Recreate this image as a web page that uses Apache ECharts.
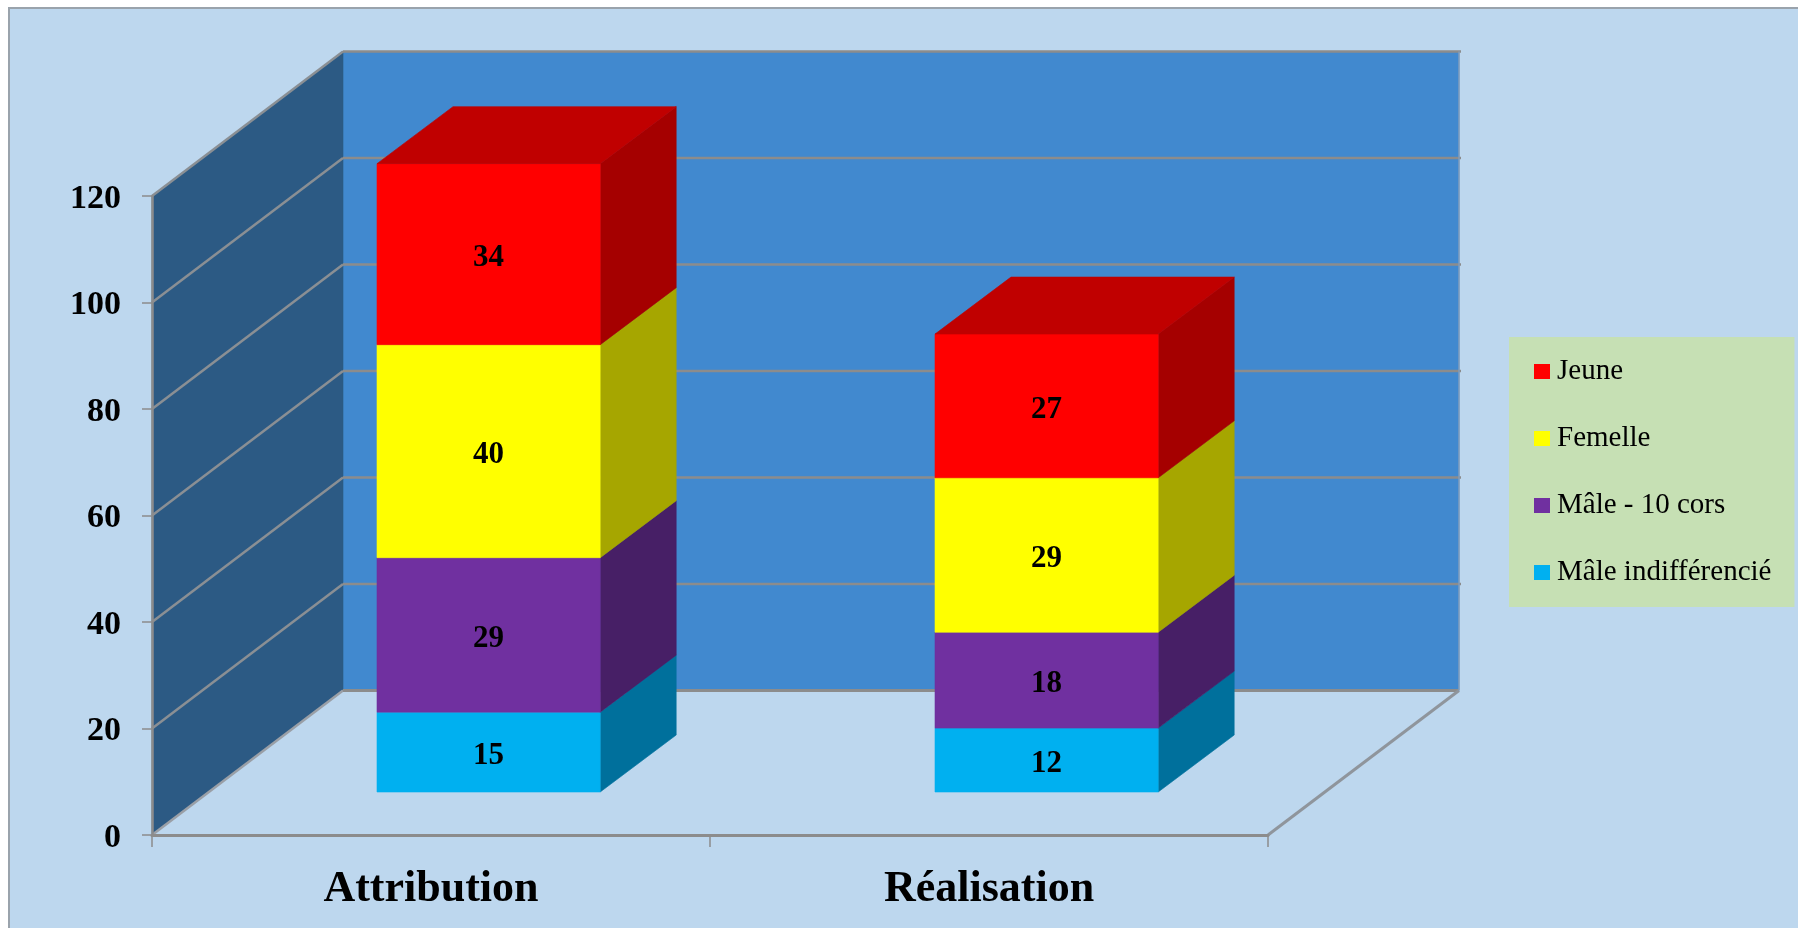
<!DOCTYPE html>
<html><head><meta charset="utf-8">
<style>html,body{margin:0;padding:0;background:#fff}#c{width:1798px;height:928px}</style>
<script src="https://cdn.jsdelivr.net/npm/echarts@6/dist/echarts.min.js"></script>
</head><body><div id="c"></div>
<script>
const categories = ['Attribution', 'Réalisation'];
const yTicks = [0, 20, 40, 60, 80, 100, 120];
const maleIndiff = [15, 12];
const male10 = [29, 18];
const femelle = [40, 29];
const jeune = [34, 27];
const legendOrder = ['Jeune', 'Femelle', 'Mâle - 10 cors', 'Mâle indifférencié'];

const FONT = '"Liberation Serif", serif';
const WALL = {dx: 191, dy: -144.5};
const BAR_OFFSET = {dx: 57.6, dy: -43};
const BAR_DEPTH = {dx: 76, dy: -57};
const BAR_FRACTION = 0.4;
const GRID_COLOR = '#8c8c8c';

const stacks = [
  {name: 'Mâle indifférencié', values: maleIndiff, front: '#00B0F0', side: '#00709C', top: '#0088BA'},
  {name: 'Mâle - 10 cors', values: male10, front: '#7030A0', side: '#471F66', top: '#57257C'},
  {name: 'Femelle', values: femelle, front: '#FFFF00', side: '#A6A600', top: '#C6C600'},
  {name: 'Jeune', values: jeune, front: '#FF0000', side: '#A50000', top: '#C00000'}
];

function poly(points, fill) {
  return {type: 'polygon', shape: {points}, style: {fill, stroke: fill, lineWidth: 0.6}};
}
function gl(x1, y1, x2, y2, w, color) {
  return {type: 'line', shape: {x1, y1, x2, y2}, style: {stroke: color || GRID_COLOR, lineWidth: w || 2}};
}

function renderWalls(params, api) {
  const yMax = yTicks[yTicks.length - 1];
  const o = api.coord([0, 0]);
  const bandW = api.size([1, 0])[0];
  const lx = o[0] - bandW / 2, rx = lx + 2 * bandW;
  const y0 = o[1], yT = api.coord([0, yMax])[1];
  const d = WALL;
  const children = [
    poly([[lx + d.dx, y0 + d.dy], [rx + d.dx, y0 + d.dy], [rx + d.dx, yT + d.dy], [lx + d.dx, yT + d.dy]], '#4189CF'),
    poly([[lx, y0], [lx + d.dx, y0 + d.dy], [lx + d.dx, yT + d.dy], [lx, yT]], '#2C5A84')
  ];
  yTicks.forEach(function (t) {
    const y = api.coord([0, t])[1];
    if (t === 0) {
      children.push(gl(lx, y, lx + d.dx, y + d.dy, 2.5, '#9a9fa6'));
      children.push(gl(lx + d.dx, y + d.dy, rx + d.dx, y + d.dy, 3));
      children.push(gl(rx, y, rx + d.dx, y + d.dy, 3, '#8f959c'));
    } else {
      children.push(gl(lx, y, lx + d.dx, y + d.dy, 2.5, '#8a8f94'));
      children.push(gl(lx + d.dx, y + d.dy, rx + d.dx + 2, y + d.dy, 2.5));
    }
  });
  children.push(gl(rx + d.dx, y0 + d.dy, rx + d.dx, yT + d.dy, 1.5, '#7f9dbd'));
  return {type: 'group', children};
}

function renderCube(s) {
  return function (params, api) {
    const cat = api.value(0), base = api.value(1), val = api.value(2);
    const bandW = api.size([1, 0])[0];
    const w = bandW * BAR_FRACTION;
    const c0 = api.coord([cat, base]), c1 = api.coord([cat, base + val]);
    const l = c0[0] - w / 2 + BAR_OFFSET.dx, r = l + w;
    const yb = c0[1] + BAR_OFFSET.dy, yt = c1[1] + BAR_OFFSET.dy;
    const dx = BAR_DEPTH.dx, dy = BAR_DEPTH.dy;
    const children = [
      poly([[r, yb], [r + dx, yb + dy], [r + dx, yt + dy], [r, yt]], s.side),
      poly([[l, yb], [r, yb], [r, yt], [l, yt]], s.front)
    ];
    if (s.name === 'Jeune') {
      children.push(poly([[l, yt], [r, yt], [r + dx, yt + dy], [l + dx, yt + dy]], s.top));
    }
    children.push({
      type: 'text',
      style: {text: String(val), x: (l + r) / 2, y: (yb + yt) / 2 + 4, align: 'center', verticalAlign: 'middle',
        font: 'bold 31px ' + FONT, fill: '#000'}
    });
    return {type: 'group', children};
  };
}

const series = [{
  type: 'custom', name: 'walls', silent: true, z: 1,
  renderItem: renderWalls, data: [[0, 0]], encode: {x: 0, y: 1}
}];
const running = categories.map(function () { return 0; });
stacks.forEach(function (s, si) {
  series.push({
    type: 'custom', name: s.name, z: 3 + si,
    itemStyle: {color: s.front},
    renderItem: renderCube(s),
    encode: {x: 0, y: 2},
    data: categories.map(function (_, i) {
      const row = [i, running[i], s.values[i]];
      running[i] += s.values[i];
      return row;
    })
  });
});

const chart = echarts.init(document.getElementById('c'), null, {renderer: 'canvas'});
chart.setOption({
  animation: false,
  backgroundColor: '#ffffff',
  graphic: [{
    type: 'rect', z: -10, silent: true,
    shape: {x: 9, y: 8, width: 1820, height: 960},
    style: {fill: '#BDD7EE', stroke: '#9aa3ac', lineWidth: 2}
  }],
  grid: {left: 152, top: 196, width: 1116, height: 639, containLabel: false},
  legend: {
    orient: 'vertical', left: 1509, top: 337,
    data: legendOrder,
    icon: 'rect', itemWidth: 16, itemHeight: 15, itemGap: 38,
    padding: [20, 23, 20, 25],
    backgroundColor: '#C6E0B4',
    selectedMode: false,
    textStyle: {fontFamily: FONT, fontSize: 29, color: '#000', padding: [0, 0, 0, 2]}
  },
  xAxis: {
    type: 'category', data: categories, z: 5,
    axisLine: {lineStyle: {color: '#8c8c8c', width: 3}},
    axisTick: {show: true, alignWithLabel: false, length: 12, lineStyle: {color: '#8c8c8c', width: 1.5}},
    axisLabel: {fontFamily: FONT, fontWeight: 'bold', fontSize: 44, color: '#000', margin: 33},
    splitLine: {show: false}
  },
  yAxis: {
    type: 'value', min: 0, max: 120, interval: 20, z: 5,
    axisLine: {show: true, lineStyle: {color: '#8c8c8c', width: 2.5}},
    axisTick: {show: true, length: 10, lineStyle: {color: '#8c8c8c', width: 1.5}},
    axisLabel: {fontFamily: FONT, fontWeight: 'bold', fontSize: 34, color: '#000', margin: 31, verticalAlign: 'top', lineHeight: 6},
    splitLine: {show: false}
  },
  series: series
});
</script></body></html>
